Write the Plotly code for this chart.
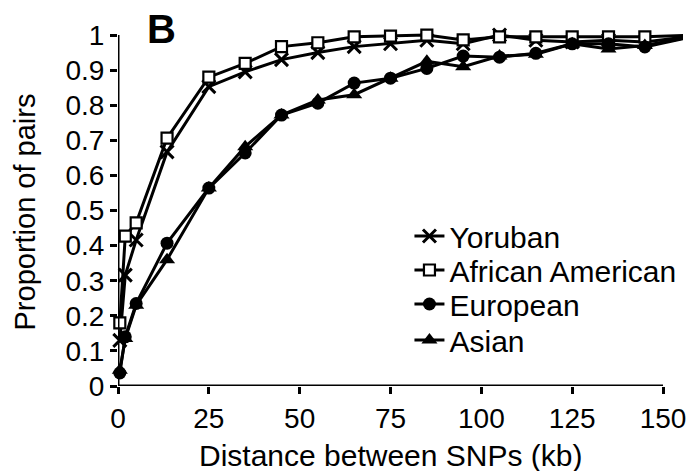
import plotly.graph_objects as go

# ---- data ----
distance_kb = [0.5, 2, 5, 13.5, 25, 35, 45, 55, 65, 75, 85, 95, 105, 115, 125, 135, 145, 160]
yoruban = [0.13, 0.316, 0.416, 0.667, 0.853, 0.895, 0.93, 0.95, 0.967, 0.975, 0.985, 0.975, 1.0, 0.985, 0.98, 0.985, 0.98, 1.0]
african_american = [0.18, 0.427, 0.465, 0.706, 0.88, 0.919, 0.967, 0.978, 0.995, 0.997, 1.0, 0.986, 0.995, 0.995, 0.995, 0.995, 0.995, 1.0]
european = [0.037, 0.14, 0.235, 0.407, 0.564, 0.664, 0.772, 0.806, 0.863, 0.877, 0.905, 0.94, 0.937, 0.948, 0.975, 0.975, 0.966, 1.0]
asian = [0.045, 0.135, 0.23, 0.36, 0.564, 0.682, 0.772, 0.815, 0.83, 0.877, 0.925, 0.91, 0.94, 0.945, 0.975, 0.96, 0.97, 1.0]

series_names = ["Yoruban", "African American", "European", "Asian"]
x_ticks = [0, 25, 50, 75, 100, 125, 150]
y_ticks = [0, 0.1, 0.2, 0.3, 0.4, 0.5, 0.6, 0.7, 0.8, 0.9, 1.0]
y_ticklabels = ["0", "0.1", "0.2", "0.3", "0.4", "0.5", "0.6", "0.7", "0.8", "0.9", "1"]
x_title = "Distance between SNPs (kb)"
y_title = "Proportion of pairs"
panel_label = "B"

FONT = "Liberation Sans, Arial, Helvetica, sans-serif"

# pixel geometry
W, H = 693, 471
L, R, T, B = 118, 7, 21, 85
XMAX = 155.5
YMAX = 1.04
plot_w = W - L - R
plot_h = H - T - B

def px_to_paper_y(py):
    return (H - B - py) / plot_h

def px_to_paper_x(px):
    return (px - L) / plot_w

styles = [
    dict(symbol="x-thin", size=13, color="black", line=dict(color="black", width=3)),
    dict(symbol="square", size=11, color="white", line=dict(color="black", width=2.2)),
    dict(symbol="circle", size=13, color="black", line=dict(color="black", width=0)),
    dict(symbol="triangle-up", size=14, color="black", line=dict(color="black", width=0)),
]
series = [yoruban, african_american, european, asian]
legend_ids = ["legend", "legend2", "legend3", "legend4"]
legend_py = [236, 270, 304, 340]

fig = go.Figure()
for name, vals, st, lid in zip(series_names, series, styles, legend_ids):
    fig.add_trace(go.Scatter(
        x=distance_kb, y=vals, name=name, mode="lines+markers",
        line=dict(color="black", width=3),
        marker=st, cliponaxis=False, legend=lid,
    ))

legend_common = dict(
    font=dict(family=FONT, size=30, color="black"),
    bgcolor="rgba(0,0,0,0)", borderwidth=0,
    xanchor="left", yanchor="middle", itemsizing="trace",
)
layout_legends = {}
for lid, py in zip(legend_ids, legend_py):
    layout_legends[lid] = dict(x=px_to_paper_x(411), y=px_to_paper_y(py), **legend_common)

fig.update_layout(
    width=W, height=H,
    margin=dict(l=L, r=R, t=T, b=B, pad=0),
    paper_bgcolor="white", plot_bgcolor="white",
    showlegend=True,
    font=dict(family=FONT, color="black"),
    xaxis=dict(
        range=[0, XMAX], tickvals=x_ticks, ticktext=[str(t) for t in x_ticks],
        showgrid=False, zeroline=False, showline=False,
        ticks="outside", ticklen=7, tickwidth=2.5, tickcolor="black",
        tickfont=dict(family=FONT, size=28, color="black"),
    ),
    yaxis=dict(
        range=[0, YMAX], tickvals=y_ticks, ticktext=y_ticklabels,
        showgrid=False, zeroline=False, showline=False,
        ticks="outside", ticklen=7, tickwidth=2.5, tickcolor="black",
        tickfont=dict(family=FONT, size=28, color="black"),
    ),
    shapes=[
        dict(type="line", xref="x", yref="y", x0=0, x1=150, y0=0, y1=0,
             line=dict(color="black", width=3)),
        dict(type="line", xref="x", yref="y", x0=0, x1=0, y0=0, y1=1,
             line=dict(color="black", width=3)),
    ],
    annotations=[
        dict(text=x_title, xref="x", yref="paper", x=75, y=px_to_paper_y(456),
             xanchor="center", yanchor="middle", showarrow=False,
             font=dict(family=FONT, size=30, color="black")),
        dict(text=y_title, xref="paper", yref="paper", x=px_to_paper_x(25),
             y=px_to_paper_y(212), xanchor="center", yanchor="middle",
             textangle=-90, showarrow=False,
             font=dict(family=FONT, size=29, color="black")),
        dict(text="<b>" + panel_label + "</b>", xref="paper", yref="paper",
             x=px_to_paper_x(145), y=px_to_paper_y(29), xanchor="left",
             yanchor="middle", showarrow=False,
             font=dict(family=FONT, size=40, color="black")),
    ],
    **layout_legends,
)

fig.write_html("out.html")
